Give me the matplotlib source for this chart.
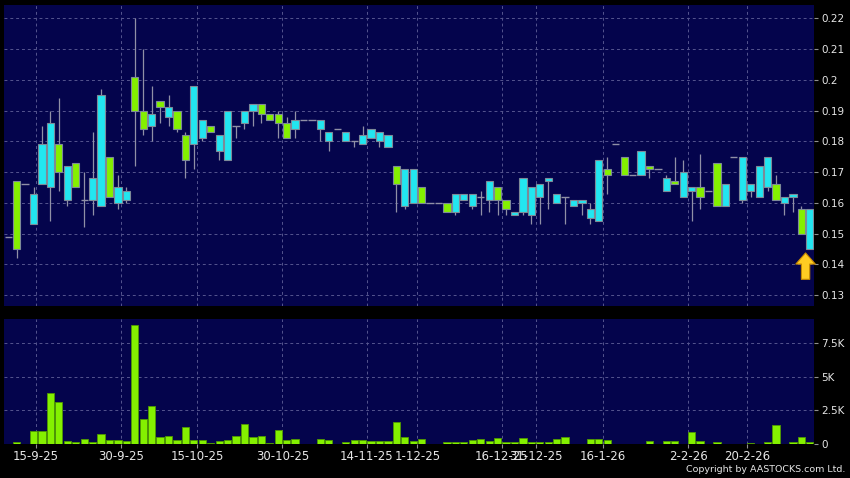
import matplotlib.pyplot as plt
import numpy as np

# daily OHLC (price in HKD), volume in shares
opens = [0.149, 0.145, 0.166, 0.163, 0.179, 0.186, 0.170, 0.172, 0.165, 0.161,
         0.168, 0.195, 0.162, 0.165, 0.164, 0.190, 0.184, 0.189, 0.191, 0.191,
         0.184, 0.174, 0.198, 0.187, 0.183, 0.182, 0.190, 0.185, 0.190, 0.192,
         0.189, 0.187, 0.186, 0.181, 0.187, 0.187, 0.187, 0.187, 0.183, 0.184,
         0.183, 0.180, 0.182, 0.184, 0.183, 0.182, 0.166, 0.171, 0.171, 0.160,
         0.160, 0.160, 0.157, 0.163, 0.163, 0.163, 0.162, 0.167, 0.161, 0.158,
         0.157, 0.168, 0.165, 0.166, 0.168, 0.163, 0.162, 0.161, 0.161, 0.158,
         0.174, 0.169, 0.179, 0.169, 0.169, 0.177, 0.171, 0.171, 0.168, 0.166,
         0.170, 0.165, 0.162, 0.164, 0.159, 0.166, 0.175, 0.175, 0.166, 0.172,
         0.175, 0.161, 0.162, 0.163, 0.150, 0.158]
highs = [0.149, 0.167, 0.166, 0.165, 0.185, 0.190, 0.194, 0.172, 0.173, 0.170,
         0.183, 0.197, 0.175, 0.169, 0.165, 0.220, 0.210, 0.198, 0.193, 0.195,
         0.190, 0.183, 0.198, 0.187, 0.185, 0.182, 0.190, 0.185, 0.190, 0.192,
         0.192, 0.189, 0.190, 0.188, 0.190, 0.187, 0.187, 0.187, 0.183, 0.184,
         0.183, 0.180, 0.185, 0.184, 0.183, 0.182, 0.172, 0.171, 0.171, 0.165,
         0.160, 0.160, 0.160, 0.163, 0.163, 0.163, 0.164, 0.167, 0.165, 0.161,
         0.157, 0.168, 0.165, 0.166, 0.168, 0.163, 0.162, 0.161, 0.161, 0.160,
         0.174, 0.175, 0.179, 0.175, 0.169, 0.177, 0.172, 0.171, 0.169, 0.175,
         0.174, 0.165, 0.176, 0.164, 0.173, 0.166, 0.175, 0.175, 0.166, 0.172,
         0.175, 0.169, 0.162, 0.163, 0.159, 0.158]
lows = [0.149, 0.142, 0.166, 0.153, 0.166, 0.154, 0.164, 0.159, 0.165, 0.152,
        0.156, 0.159, 0.162, 0.158, 0.160, 0.172, 0.182, 0.180, 0.186, 0.185,
        0.183, 0.168, 0.171, 0.180, 0.183, 0.174, 0.174, 0.181, 0.184, 0.185,
        0.186, 0.187, 0.181, 0.181, 0.181, 0.187, 0.187, 0.180, 0.177, 0.184,
        0.180, 0.178, 0.179, 0.181, 0.178, 0.178, 0.157, 0.158, 0.160, 0.160,
        0.160, 0.160, 0.157, 0.156, 0.161, 0.158, 0.156, 0.157, 0.156, 0.156,
        0.156, 0.156, 0.153, 0.153, 0.158, 0.160, 0.153, 0.159, 0.156, 0.153,
        0.154, 0.163, 0.179, 0.169, 0.169, 0.169, 0.168, 0.171, 0.164, 0.166,
        0.162, 0.154, 0.158, 0.164, 0.159, 0.159, 0.175, 0.160, 0.162, 0.162,
        0.164, 0.161, 0.156, 0.157, 0.150, 0.145]
closes = [0.149, 0.167, 0.166, 0.153, 0.166, 0.165, 0.179, 0.161, 0.173, 0.161,
          0.161, 0.159, 0.175, 0.160, 0.161, 0.201, 0.190, 0.185, 0.193, 0.188,
          0.190, 0.182, 0.179, 0.181, 0.185, 0.177, 0.174, 0.185, 0.186, 0.190,
          0.192, 0.189, 0.189, 0.186, 0.184, 0.187, 0.187, 0.184, 0.180, 0.184,
          0.180, 0.180, 0.179, 0.181, 0.180, 0.178, 0.172, 0.159, 0.160, 0.165,
          0.160, 0.160, 0.160, 0.157, 0.161, 0.159, 0.162, 0.161, 0.165, 0.161,
          0.156, 0.157, 0.156, 0.162, 0.167, 0.160, 0.162, 0.159, 0.160, 0.155,
          0.154, 0.171, 0.179, 0.175, 0.169, 0.169, 0.172, 0.171, 0.164, 0.167,
          0.162, 0.164, 0.165, 0.164, 0.173, 0.159, 0.175, 0.161, 0.164, 0.162,
          0.165, 0.166, 0.160, 0.162, 0.158, 0.145]
volumes = [0, 75, 0, 950, 925, 3800, 3125, 175, 75, 325,
           75, 675, 250, 250, 150, 8875, 1800, 2800, 500, 575,
           250, 1225, 250, 250, 25, 175, 225, 575, 1425, 450,
           525, 50, 1000, 250, 350, 0, 0, 325, 250, 0,
           125, 225, 275, 175, 150, 175, 1625, 500, 200, 350,
           0, 0, 100, 75, 125, 250, 300, 200, 400, 125,
           100, 400, 100, 100, 100, 325, 475, 0, 0, 325,
           300, 225, 0, 0, 0, 0, 150, 0, 150, 175,
           0, 875, 150, 0, 75, 0, 0, 0, 50, 0,
           100, 1375, 0, 125, 475, 125]

date_pos = [3.3, 13.4, 22.4, 32.5, 42.5, 48.5, 58.5, 62.6, 70.5, 80.6, 87.6]
date_labels = ['15-9-25', '30-9-25', '15-10-25', '30-10-25', '14-11-25', '1-12-25',
               '16-12-25', '31-12-25', '16-1-26', '2-2-26', '20-2-26']
price_ticks = [0.13, 0.14, 0.15, 0.16, 0.17, 0.18, 0.19, 0.2, 0.21, 0.22]
vol_ticks = [0, 2500, 5000, 7500]
vol_labels = ['0', '2.5K', '5K', '7.5K']

BG = '#04044c'
UP = '#84f000'
DOWN = '#22e6f0'
EDGE = '#7d8a98'
WICK = '#9090a6'
GRID = '#55558f'
TXT = '#e6e6e6'

plt.rcParams['font.family'] = ['DejaVu Sans']

fig = plt.figure(figsize=(8.5, 4.78), dpi=100, facecolor='black')
ax = fig.add_axes([4 / 850, 1 - 306 / 478, 810 / 850, 301 / 478])
axv = fig.add_axes([4 / 850, 1 - 443.5 / 478, 810 / 850, 124.5 / 478])

o = np.array(opens)
h = np.array(highs)
l = np.array(lows)
c = np.array(closes)
v = np.array(volumes)
x = np.arange(len(o))
w = 0.86

for a in (ax, axv):
    a.set_facecolor(BG)
    for s in a.spines.values():
        s.set_visible(False)
    a.set_xlim(-0.5, len(o) - 0.5)
    a.set_xticks(date_pos)
    a.grid(True, color=GRID, linestyle=(0, (3, 3)), linewidth=0.7)
    a.set_axisbelow(True)
    a.yaxis.tick_right()
    a.tick_params(axis='y', direction='out', length=3, color='#909090',
                  labelcolor=TXT, labelsize=7.5, pad=2)

# candles
ax.vlines(x, l, h, color=WICK, linewidth=0.9, zorder=2)
flat = o == c
ax.hlines(o[flat], x[flat] - w / 2, x[flat] + w / 2, color=WICK, linewidth=1.0, zorder=3)
up = c > o
dn = c < o
ax.bar(x[up], (c - o)[up], bottom=o[up], width=w, color=UP, edgecolor=EDGE,
       linewidth=0.8, zorder=3)
ax.bar(x[dn], (o - c)[dn], bottom=c[dn], width=w, color=DOWN, edgecolor=EDGE,
       linewidth=0.8, zorder=3)
ax.set_ylim(0.12644, 0.22433)
ax.set_yticks(price_ticks)
ax.set_yticklabels(['%g' % t for t in price_ticks])
ax.tick_params(axis='x', length=0, labelbottom=False)

# latest-price marker
ax.annotate('', xy=(x[-1] - 0.5, l[-1] - 0.0004), xytext=(0, -23), textcoords='offset points',
            arrowprops=dict(arrowstyle='simple,head_width=1.4,head_length=0.8,tail_width=0.6',
                            fc='#ffcc22', ec='#c88a00', lw=0.8), zorder=5)

# volume
axv.bar(x, v, width=w, color=UP, edgecolor='#4f9a00', linewidth=0.6, zorder=3)
axv.set_ylim(0, 9330)
axv.set_yticks(vol_ticks)
axv.set_yticklabels(vol_labels)
axv.set_xticklabels(date_labels)
axv.tick_params(axis='x', direction='out', length=3, color='#909090',
                labelcolor=TXT, labelsize=8.5, pad=2)

fig.text(0.995, 0.008, 'Copyright by AASTOCKS.com Ltd.', color=TXT, fontsize=6.8,
         ha='right', va='bottom')

fig.savefig('out.png', dpi=100, facecolor='black')
